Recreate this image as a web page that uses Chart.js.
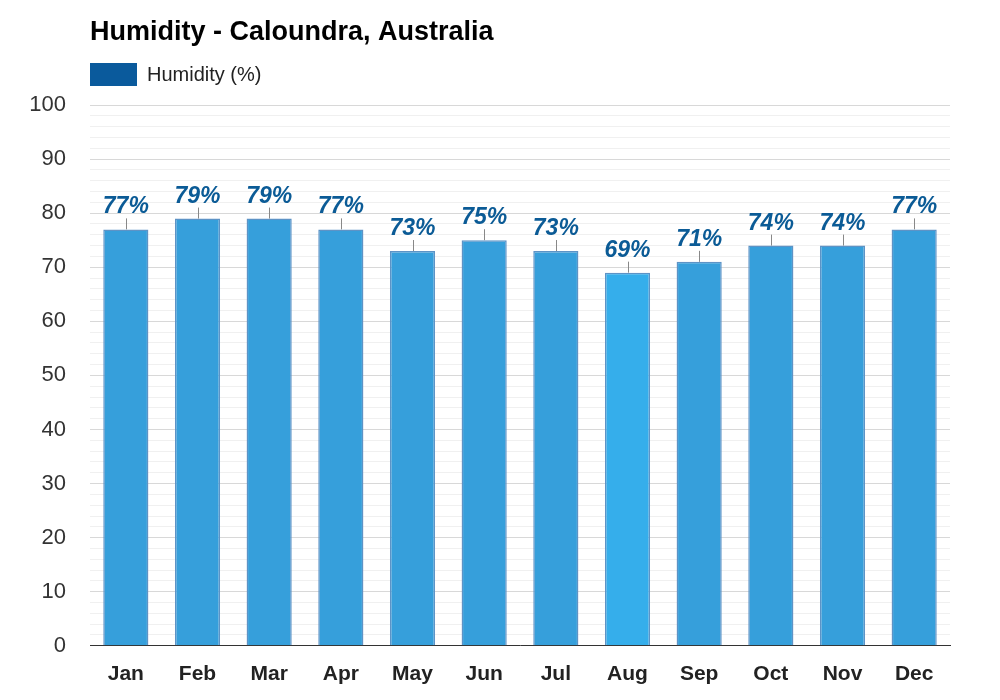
<!DOCTYPE html><html><head><script src="https://cdn.jsdelivr.net/npm/chart.js"></script>
<style>body{margin:0;background:#fff}#c{width:1000px;height:700px}</style></head><body><div id="c"><canvas id="cv" width="1000" height="700"></canvas></div>
<script>
const months=["Jan","Feb","Mar","Apr","May","Jun","Jul","Aug","Sep","Oct","Nov","Dec"];
const humidity=[77,79,79,77,73,75,73,69,71,74,74,77];
const titleText="Humidity - Caloundra, Australia";
const seriesName="Humidity (%)";
const barColors=humidity.map((v,i)=>i===7?"#35aeeb":"#369fdb");
const F="Arial, 'Liberation Sans'";
const labelPlugin={id:"lbl",afterDatasetsDraw(ch){const c=ch.ctx,m=ch.getDatasetMeta(0);c.save();
m.data.forEach((b,i)=>{c.strokeStyle="#888";c.lineWidth=1;c.beginPath();c.moveTo(Math.round(b.x)+0.5,b.y);c.lineTo(Math.round(b.x)+0.5,b.y-11);c.stroke();
c.fillStyle="#0b5b96";c.font="italic bold 23px "+F;c.textAlign="center";c.textBaseline="alphabetic";c.fillText(humidity[i]+"%",b.x,b.y-16);});
c.textAlign="left";c.textBaseline="middle";c.fillStyle="#000";c.font="bold 27px "+F;c.fillText(titleText,90,33);
c.fillStyle="#0a5a9c";c.fillRect(90,63,47,23);c.fillStyle="#222";c.font="20px "+F;c.fillText(seriesName,147,75);
c.restore();}};
new Chart(document.getElementById("cv"),{type:"bar",
data:{labels:months,datasets:[{label:seriesName,data:humidity,backgroundColor:barColors,borderColor:"#5d93c6",borderWidth:1.5,barPercentage:0.9,categoryPercentage:0.7}]},
options:{responsive:false,animation:false,layout:{padding:{left:0,right:50,top:105,bottom:5}},
plugins:{title:{display:false},legend:{display:false},tooltip:{enabled:false}},
scales:{x:{grid:{display:false},border:{color:"#333"},ticks:{color:"#222",font:{family:F,size:21,weight:"bold"},padding:8}},
y:{min:0,max:100,afterFit(s){s.width=90;},border:{display:false},grid:{color:c=>c.tick&&c.tick.value%10===0?"#d8d8d8":"#f0f0f0",drawTicks:false},
ticks:{stepSize:2,autoSkip:false,padding:24,color:"#333",font:{family:F,size:22},callback:v=>v%10===0?v:""}}}},
plugins:[labelPlugin]});
</script></body></html>
